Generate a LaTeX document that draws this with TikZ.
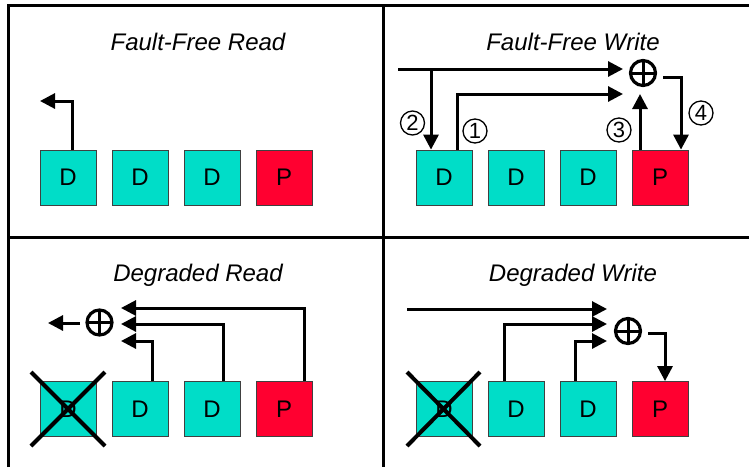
\documentclass[tikz,border=0pt]{standalone}
\usepackage{fontspec}
\setmainfont{Liberation Sans}
\usetikzlibrary{arrows.meta}
\definecolor{diskdata}{HTML}{00DDC8}
\definecolor{diskpar}{HTML}{FF0030}
\definecolor{diskedge}{HTML}{404040}
\begin{document}
\begin{tikzpicture}[x=1pt,y=-1pt,
  disk/.style={draw=diskedge,line width=0.8pt,minimum width=56pt,minimum height=55pt,inner sep=0pt,
    font=\fontsize{24}{28}\selectfont},
  ddisk/.style={disk,fill=diskdata},
  pdisk/.style={disk,fill=diskpar},
  title/.style={anchor=base,font=\fontsize{24}{28}\selectfont\itshape},
  frame/.style={line width=3pt},
  flow/.style={line width=3pt,-{Triangle[length=15pt,width=15pt]}},
  xor/.style={circle,draw,line width=3.2pt,minimum size=25pt,inner sep=0pt,
    path picture={\draw[line width=3pt]
      (path picture bounding box.north) -- (path picture bounding box.south)
      (path picture bounding box.west) -- (path picture bounding box.east);}},
  step num/.style={circle,draw,line width=1.3pt,minimum size=24pt,inner sep=0pt,
    font=\fontsize{22}{24}\selectfont},
  failed/.style={line width=4pt},
]
\useasboundingbox (0,0) rectangle (749,467);

% panel frame
\draw[frame] (8,467) -- (8,5.5) -- (749,5.5);
\draw[frame] (8,237) -- (749,237);
\draw[frame] (383.5,5.5) -- (383.5,467);

% ---------- Fault-Free Read ----------
\node[title] (t1) at (198,50) {Fault-Free Read};
\node[ddisk] (a1) at (68,177.5) {D};
\node[ddisk] (a2) at (140,177.5) {D};
\node[ddisk] (a3) at (212,177.5) {D};
\node[pdisk] (a4) at (284,177.5) {P};
\coordinate (aout) at (40,101);
\draw[flow] ([xshift=4pt]a1.north) |- (aout);

% ---------- Fault-Free Write ----------
\node[title] (t2) at (573,50) {Fault-Free Write};
\node[ddisk] (b1) at (444,177.5) {D};
\node[ddisk] (b2) at (516,177.5) {D};
\node[ddisk] (b3) at (588,177.5) {D};
\node[pdisk] (b4) at (660,177.5) {P};
\node[xor] (bx) at (643,73) {};
\coordinate (bin) at (398,69);
\coordinate (btap) at (431,69);
\coordinate (bnew) at (623,69);
\coordinate (bold) at (623,94);
\coordinate (bpar) at (640,94);
\coordinate (bxo) at (663,77);
\draw[flow] (bin) -- (bnew);
\draw[flow] (btap) -- (btap |- b1.north);
\draw[flow] ([xshift=13pt]b1.north) |- (bold);
\draw[flow] (bpar |- b4.north) -- (bpar);
\draw[flow] (bxo) -| ([xshift=21pt]b4.north);
\node[step num] (n2) at (412.5,123) {2};
\node[step num] (n1) at (475,131) {1};
\node[step num] (n3) at (619,130) {3};
\node[step num] (n4) at (701,113) {4};

% ---------- Degraded Read ----------
\node[title] (t3) at (198,281) {Degraded Read};
\node[ddisk] (c1) at (68,409) {D};
\node[ddisk] (c2) at (140,409) {D};
\node[ddisk] (c3) at (212,409) {D};
\node[pdisk] (c4) at (284,409) {P};
\draw[failed] (31,372) -- (105,446) (105,372) -- (31,446);
\node[xor] (cx) at (99.5,322.5) {};
\coordinate (cxo) at (80,323);
\coordinate (cout) at (48,323);
\draw[flow] (cxo) -- (cout);
\coordinate (cinp) at (121,308);
\coordinate (cin3) at (121,324);
\coordinate (cin2) at (121,341);
\draw[flow] ([xshift=20pt]c4.north) |- (cinp);
\draw[flow] ([xshift=11pt]c3.north) |- (cin3);
\draw[flow] ([xshift=12pt]c2.north) |- (cin2);

% ---------- Degraded Write ----------
\node[title] (t4) at (573,281) {Degraded Write};
\node[ddisk] (e1) at (444,409) {D};
\node[ddisk] (e2) at (516,409) {D};
\node[ddisk] (e3) at (588,409) {D};
\node[pdisk] (e4) at (660,409) {P};
\draw[failed] (407,372) -- (480,446) (480,372) -- (407,446);
\node[xor] (ex) at (628,331) {};
\coordinate (ein) at (407,309);
\coordinate (enew) at (607,309);
\coordinate (e2in) at (607,324);
\coordinate (e3in) at (607,341);
\coordinate (exo) at (648,333);
\draw[flow] (ein) -- (enew);
\draw[flow] ([xshift=-12pt]e2.north) |- (e2in);
\draw[flow] ([xshift=-13pt]e3.north) |- (e3in);
\draw[flow] (exo) -| ([xshift=5pt]e4.north);
\end{tikzpicture}
\end{document}
